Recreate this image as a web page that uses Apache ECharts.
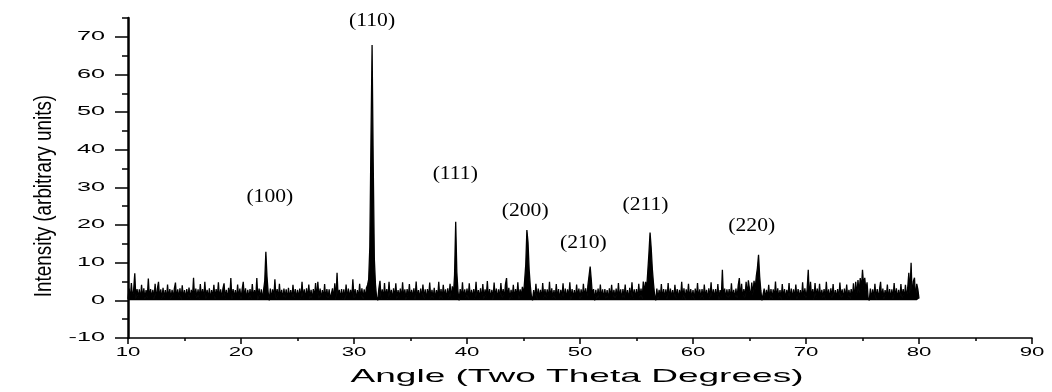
<!DOCTYPE html>
<html>
<head>
<meta charset="utf-8">
<script src="https://cdn.jsdelivr.net/npm/echarts@6/dist/echarts.min.js"></script>
<style>
  html, body { margin: 0; padding: 0; background: #fff; }
  #chart { width: 1052px; height: 392px; }
</style>
</head>
<body>
<div id="chart"></div>
<script>
// XRD scan, 2θ from 10° to 80° in 0.1° steps
const startAngle = 10;
const angleStep = 0.1;

// Intensity per 0.1° step, grouped by decade of 2θ (one row per degree)
const intensity10s = [
  0.4,3.1,0.2,4.6,0.5,2.8,7.2,0.3,3.0,0.6,
  2.9,0.1,4.1,0.4,3.2,0.2,2.7,0.5,5.8,0.3,
  3.0,0.6,2.8,0.2,4.4,0.1,3.1,4.9,0.4,2.9,
  0.2,3.3,0.5,2.7,0.1,4.2,0.4,3.0,0.3,2.8,
  0.6,3.1,4.7,0.2,2.9,0.5,3.2,0.1,4.0,0.4,
  2.7,0.3,3.0,0.6,3.4,0.2,2.8,0.4,6.0,0.1,
  3.1,0.5,2.9,0.2,4.3,0.6,3.0,0.1,4.9,0.3,
  2.8,0.4,3.2,0.1,2.7,0.5,4.1,0.2,3.0,0.6,
  4.8,0.2,2.9,0.4,3.1,4.5,0.3,2.8,0.1,3.3,
  0.5,5.9,0.2,3.0,0.6,2.7,0.1,4.2,0.4,3.1
];
const intensity20s = [
  0.3,2.9,4.9,0.5,3.2,0.1,2.8,0.4,3.0,0.2,
  4.3,0.6,2.7,0.3,5.9,0.1,3.1,0.5,2.9,0.2,
  2.8,5.1,12.9,6.4,2.2,0.0,3.1,0.2,2.9,0.5,
  5.6,0.3,3.0,0.1,4.4,0.5,2.8,0.2,3.1,0.6,
  2.9,0.1,3.3,0.4,2.7,0.2,4.1,0.5,3.0,0.3,
  2.8,0.6,3.1,0.2,4.9,0.4,2.9,0.1,3.2,0.5,
  4.2,0.3,2.8,0.1,3.0,0.6,4.6,0.2,4.9,0.4,
  3.1,0.2,2.7,0.5,4.3,0.1,3.0,0.4,2.9,0.3,
  0.6,3.2,0.2,4.5,0.1,7.3,0.4,2.8,0.3,3.0,
  0.5,2.9,0.1,4.2,0.3,3.1,0.6,2.8,0.2,5.6
];
const intensity30s = [
  0.4,3.0,0.1,2.7,0.5,4.4,0.2,3.2,0.3,2.9,
  0.6,3.3,4.1,5.6,14.2,42.0,67.8,36.5,11.0,4.2,
  0.8,0.0,3.1,5.2,0.3,2.9,0.1,4.6,0.4,3.0,
  0.2,4.9,0.5,2.8,0.1,3.2,0.4,4.5,0.3,2.7,
  0.6,3.1,0.2,4.8,0.4,2.9,0.1,3.0,0.5,4.3,
  0.3,2.8,0.6,3.2,0.1,5.0,0.4,2.7,0.2,3.1,
  0.5,4.2,0.3,2.9,0.1,3.0,0.6,4.7,0.2,2.8,
  0.4,3.3,0.1,2.7,0.5,4.9,0.3,3.0,0.2,4.1,
  0.6,2.9,0.1,3.2,0.4,4.4,0.2,3.7,1.5,6.8,
  20.9,7.5,2.4,0.0,3.0,0.4,4.8,0.2,2.9,0.5
];
const intensity40s = [
  3.1,0.3,4.5,0.1,2.8,0.6,3.0,0.2,4.9,0.4,
  2.7,0.5,3.2,0.1,4.3,0.3,2.9,0.6,5.1,0.2,
  3.0,0.4,2.8,0.1,4.7,0.5,3.1,0.2,2.9,0.3,
  4.6,0.6,3.0,0.2,4.2,5.9,0.3,3.3,0.1,2.8,
  0.5,4.1,0.2,3.0,0.6,4.8,0.3,2.9,1.0,3.6,
  1.4,5.2,9.5,18.7,15.4,8.1,3.9,1.1,0.0,2.7,
  0.3,4.4,0.1,3.1,0.5,2.8,0.2,4.6,0.4,3.0,
  0.6,2.9,0.1,4.9,0.3,3.2,0.5,2.7,0.2,4.3,
  0.4,3.0,0.1,2.8,0.6,4.5,0.2,3.1,0.3,2.9,
  0.5,4.8,0.1,3.0,0.4,2.7,0.2,4.2,0.6,3.1
];
const intensity50s = [
  0.3,2.9,0.1,4.4,0.5,3.2,0.2,4.0,3.6,9.0,
  5.4,1.2,3.0,0.0,2.8,0.3,3.1,0.1,4.2,0.5,
  2.9,0.2,3.0,0.4,2.7,0.1,3.2,0.6,4.1,0.3,
  2.8,0.5,3.1,0.2,4.6,0.4,2.9,0.1,3.0,0.6,
  4.2,0.3,2.7,0.1,3.3,0.5,4.8,0.2,2.9,0.4,
  3.0,0.1,4.4,0.6,3.1,0.3,5.0,2.0,4.9,3.2,
  7.8,12.5,18.0,13.9,8.4,4.6,1.5,0.0,3.1,0.2,
  2.8,0.4,4.3,0.1,3.0,0.5,2.9,0.2,4.6,0.3,
  3.1,0.6,2.7,0.1,4.1,0.4,3.0,0.2,2.8,0.5,
  4.9,0.3,3.2,0.1,2.9,0.6,4.4,0.2,3.0,0.4
];
const intensity60s = [
  2.7,0.1,3.1,0.5,4.6,0.2,2.9,0.4,3.0,0.3,
  4.2,0.6,2.8,0.1,3.2,0.4,4.8,0.2,2.9,0.5,
  3.0,0.3,4.3,0.1,2.7,0.5,8.1,0.2,3.1,0.4,
  2.9,0.6,3.0,0.1,4.5,0.3,2.8,0.2,3.1,0.5,
  4.0,5.9,0.4,4.4,0.2,3.0,0.6,4.9,1.2,5.3,
  3.0,0.8,4.7,1.5,5.2,2.9,6.4,8.6,12.1,6.3,
  2.7,0.0,0.4,3.1,0.2,2.8,0.5,4.1,0.1,3.0,
  0.3,2.9,0.6,5.0,0.2,3.2,0.4,2.7,0.1,4.3,
  0.5,3.0,0.2,2.8,0.6,4.6,0.1,3.1,0.3,2.9,
  0.4,4.2,0.2,3.0,0.5,2.7,0.1,4.8,0.3,3.2
];
const intensity70s = [
  0.6,2.9,8.1,0.2,4.9,0.4,3.0,0.1,4.6,0.5,
  3.1,0.3,4.4,0.2,2.8,0.6,3.0,0.1,4.9,0.4,
  2.9,0.2,3.2,0.5,4.3,0.1,2.7,0.4,3.0,0.3,
  4.7,0.6,2.9,0.1,3.1,0.4,4.2,0.2,2.8,0.5,
  3.0,0.3,4.5,0.1,4.9,1.2,5.4,2.0,5.9,3.1,
  8.1,3.9,6.0,2.5,4.8,0.6,0.0,3.1,0.2,2.9,
  0.4,4.4,0.1,3.0,0.5,2.8,4.9,0.2,3.1,0.3,
  2.7,0.6,4.2,0.1,3.0,0.4,2.9,0.2,4.6,0.5,
  3.2,0.3,2.8,0.1,4.3,0.6,3.0,0.2,4.1,0.4,
  3.3,7.3,1.8,10.0,0.6,5.0,6.0,0.3,4.4,2.9
];
const intensity80 = [0.5];

// Miller indices of the reflections and where their annotations sit (2θ, intensity)
const peakLabels = ['(100)', '(110)', '(111)', '(200)', '(210)', '(211)', '(220)'];
const peakLabelAngle = [22.55, 31.6, 38.96, 45.15, 50.3, 55.8, 65.2];
const peakLabelLevel = [27.5, 74.1, 33.6, 23.6, 15.2, 25.3, 19.6];

// Tick labels
const xTicks = [10, 20, 30, 40, 50, 60, 70, 80, 90];
const yTicks = [-10, 0, 10, 20, 30, 40, 50, 60, 70];

const xTitle = 'Angle (Two Theta Degrees)';
const yTitle = 'Intensity (arbitrary units)';

const intensity = [].concat(intensity10s, intensity20s, intensity30s, intensity40s,
  intensity50s, intensity60s, intensity70s, intensity80);
const scan = intensity.map((v, i) => [+(startAngle + i * angleStep).toFixed(1), v]);

const SANS = '"Liberation Sans", Arial, Helvetica, sans-serif';
const SERIF = '"Liberation Serif", "Times New Roman", serif';

const chart = echarts.init(document.getElementById('chart'), null, { renderer: 'canvas' });

const gridLeft = 128, gridRight = 20, gridTop = 18, gridBottom = 54;
const yMin = -10, yMax = 75;
const pxPerUnit = (392 - gridTop - gridBottom) / (yMax - yMin);

chart.setOption({
  animation: false,
  backgroundColor: '#fff',
  grid: [
    { left: gridLeft, right: gridRight, top: gridTop, bottom: gridBottom },
    // second grid carries only the long major y ticks (up to 70)
    { left: gridLeft, right: gridRight, top: gridTop + (yMax - 70) * pxPerUnit, bottom: gridBottom }
  ],
  xAxis: [
    {
      type: 'value', gridIndex: 0, min: 10, max: 90, interval: 10,
      axisLine: { show: true, onZero: false, lineStyle: { color: '#000', width: 1.5 } },
      axisTick: { show: true, inside: false, length: 6, lineStyle: { color: '#000', width: 1.5 } },
      minorTick: { show: true, splitNumber: 2, length: 3, lineStyle: { color: '#000', width: 1.5 } },
      axisLabel: { show: false },
      splitLine: { show: false }
    },
    {
      type: 'value', gridIndex: 1, min: 10, max: 90, show: false
    }
  ],
  yAxis: [
    {
      type: 'value', gridIndex: 0, min: yMin, max: yMax, interval: 5,
      axisLine: { show: true, onZero: false, lineStyle: { color: '#000', width: 2.5 } },
      axisTick: { show: true, inside: false, length: 6, lineStyle: { color: '#000', width: 1.5 } },
      axisLabel: { show: false },
      splitLine: { show: false }
    },
    {
      type: 'value', gridIndex: 1, min: yMin, max: 70, interval: 10,
      axisLine: { show: false },
      axisTick: { show: true, inside: false, length: 13, lineStyle: { color: '#000', width: 1.5 } },
      axisLabel: { show: false },
      splitLine: { show: false }
    }
  ],
  series: [
    {
      type: 'line',
      xAxisIndex: 0, yAxisIndex: 0,
      data: scan,
      showSymbol: false,
      symbol: 'none',
      lineStyle: { color: '#000', width: 1.3 },
      // filled down to the zero line so the noise floor reads as a solid band
      areaStyle: { color: '#000', opacity: 1, origin: 'auto' },
      silent: true
    }
  ]
});

// Text is drawn as graphic elements so it can be stretched like the original print
function textEl(x, y, text, font, opts) {
  return Object.assign({
    type: 'text', x: x, y: y, silent: true,
    style: {
      text: text, font: font, fill: '#000',
      align: opts.align || 'center', textAlign: opts.align || 'center',
      verticalAlign: 'middle', textVerticalAlign: 'middle'
    }
  }, opts.transform || {});
}

const graphics = [];
xTicks.forEach(v => {
  const p = chart.convertToPixel({ gridIndex: 0 }, [v, yMin]);
  graphics.push(textEl(p[0], 353, String(v), '12px ' + SANS, { transform: { scaleX: 1.85 } }));
});
yTicks.forEach(v => {
  const p = chart.convertToPixel({ gridIndex: 0 }, [10, v]);
  graphics.push(textEl(105, p[1], String(v), '12px ' + SANS, { align: 'right', transform: { scaleX: 2.1 } }));
});
peakLabels.forEach((t, i) => {
  const p = chart.convertToPixel({ gridIndex: 0 }, [peakLabelAngle[i], peakLabelLevel[i]]);
  graphics.push(textEl(p[0], p[1], t, '18px ' + SERIF, { transform: { scaleX: 1.2 } }));
});
graphics.push(textEl(577, 377, xTitle, '19px ' + SANS, { transform: { scaleX: 1.95 } }));
graphics.push(textEl(45, 196, yTitle, '23px ' + SANS, { transform: { rotation: Math.PI / 2, scaleX: 0.82 } }));

chart.setOption({ graphic: { elements: graphics } });
</script>
</body>
</html>
